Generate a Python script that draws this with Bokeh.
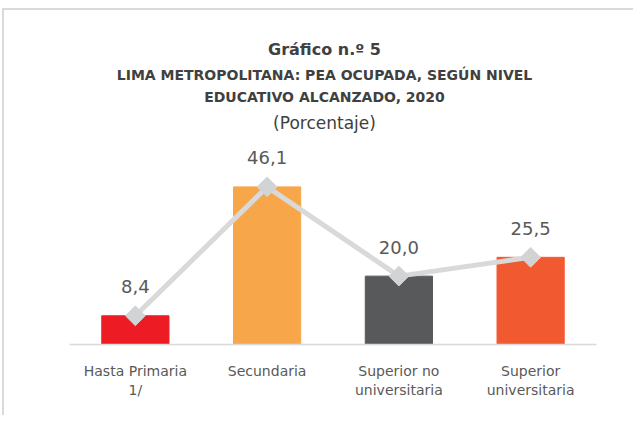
import numpy as np
from bokeh.plotting import figure
from bokeh.models import Range1d, FactorRange, Label, ColumnDataSource
from bokeh.core.properties import value
from bokeh.embed import file_html
from bokeh.resources import INLINE

# ---- data ----
categories = ["Hasta Primaria\n1/", "Secundaria", "Superior no\nuniversitaria", "Superior\nuniversitaria"]
values = [8.4, 46.1, 20.0, 25.5]
bar_colors = ["#ED1C24", "#F7A64A", "#58595B", "#F15A31"]
labels = [f"{v:.1f}".replace(".", ",") for v in values]

title = "Gráfico n.º 5"
subtitle_1 = "LIMA METROPOLITANA: PEA OCUPADA, SEGÚN NIVEL"
subtitle_2 = "EDUCATIVO ALCANZADO, 2020"
unit_note = "(Porcentaje)"

FONT = "DejaVu Sans"

src = ColumnDataSource(dict(cat=categories, val=values, col=bar_colors, lab=labels))

p = figure(
    x_range=FactorRange(factors=categories, range_padding=0),
    y_range=Range1d(0, 97.7),
    width=631, height=407,
    output_backend="svg", toolbar_location=None,
    y_axis_location=None,
    min_border_left=65, min_border_right=39, min_border_top=0, min_border_bottom=73,
)
p.styles = {"margin-left": "2px", "margin-top": "8px",
            "border-left": "2px solid #d9d9d9", "border-top": "2px solid #d9d9d9"}
p.outline_line_color = None
p.xgrid.visible = False
p.ygrid.visible = False
p.background_fill_color = "white"
p.border_fill_color = "white"

xa = p.xaxis[0]
xa.axis_line_color = "#d9d9d9"
xa.axis_line_width = 1.5
xa.major_tick_line_color = None
xa.minor_tick_line_color = None
xa.major_tick_out = 0
xa.major_tick_in = 0
xa.major_label_standoff = 18
xa.major_label_text_font = FONT
xa.major_label_text_font_size = "14px"
xa.major_label_text_color = "#595959"

p.vbar(x="cat", top="val", width=0.51, color="col", source=src)
p.line(x="cat", y="val", line_width=5, line_color="#d9d9d9", source=src)
p.scatter(x="cat", y="val", marker="square", angle=np.pi / 4, size=14,
          fill_color="#d2d3d5", line_color="#d2d3d5", source=src)
p.text(x="cat", y="val", text="lab", y_offset=-29, text_align="center", text_baseline="middle",
       text_font=value(FONT), text_font_size="18px", text_color="#595959", source=src)

cx = 255
for txt, y, size, style, color in [
    (title, 295, "16px", "bold", "#404040"),
    (subtitle_1, 269.5, "14px", "bold", "#404040"),
    (subtitle_2, 247.5, "14px", "bold", "#404040"),
    (unit_note, 222, "17px", "normal", "#404040"),
]:
    p.add_layout(Label(x=cx, y=y, x_units="screen", y_units="screen", text=txt,
                       text_align="center", text_baseline="alphabetic",
                       text_font=FONT, text_font_size=size, text_font_style=style,
                       text_color=color))

open("out.html", "w").write(file_html(p, INLINE))
